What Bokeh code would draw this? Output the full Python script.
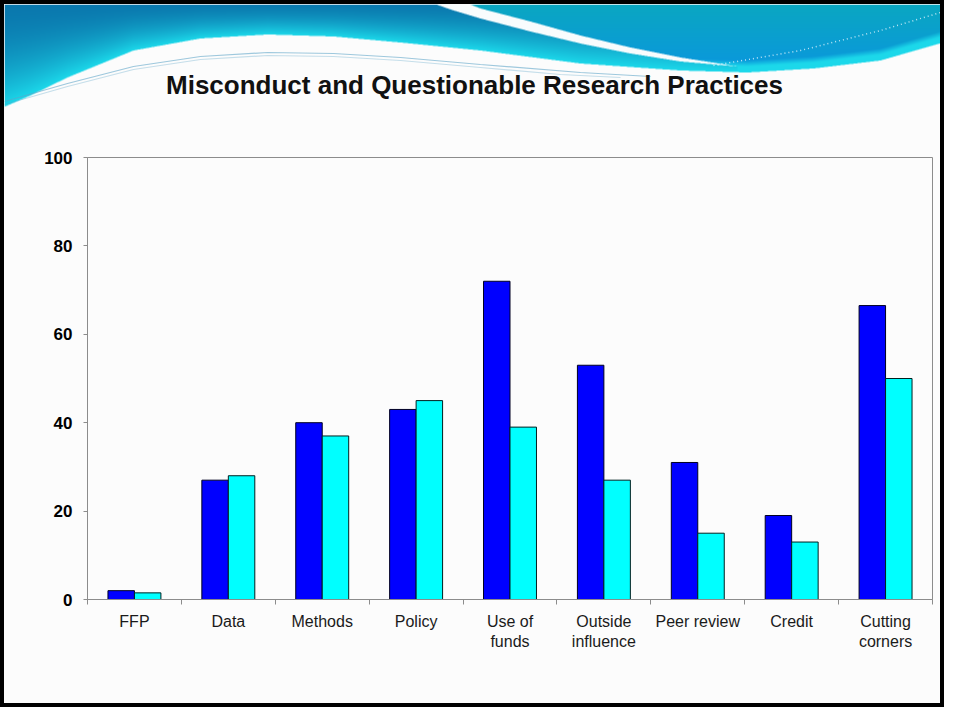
import numpy as np
from bokeh.plotting import figure
from bokeh.models import Range1d, FixedTicker, ColumnDataSource
from bokeh.layouts import column
from bokeh.embed import file_html
from bokeh.resources import INLINE
from bokeh.transform import dodge
from bokeh.core.properties import value

# ---------------- data ----------------
categories = ["FFP", "Data", "Methods", "Policy", "Use of\nfunds",
              "Outside\ninfluence", "Peer review", "Credit", "Cutting\ncorners"]
series_a = [2, 27, 40, 43, 72, 53, 31, 19, 66.5]
series_b = [1.5, 28, 37, 45, 39, 27, 15, 13, 50]
y_ticks = [0, 20, 40, 60, 80, 100]
title_text = "Misconduct and Questionable Research Practices"

BG = "#FCFCFC"
FONT = "Liberation Sans"

# ---------------- header (decorative swoosh) ----------------
HX0, HX1, HY0, HY1 = 4, 940, 4, 142
W, H = HX1 - HX0, HY1 - HY0
S = 2
xs = HX0 + (np.arange(W * S) + 0.5) / S
ys = HY0 + (np.arange(H * S) + 0.5) / S
X, Y = np.meshgrid(xs, ys)

def curve(pts, x):
    px, py = zip(*pts)
    return np.interp(x, px, py)

boundary = [(0, 108), (30, 95), (67, 77), (133, 50), (200, 38), (267, 34), (333, 36),
            (400, 42), (480, 50), (580, 63), (680, 70), (747, 72), (813, 68),
            (880, 60), (960, 37)]
rib_up = [(425, 0), (460, 0), (480, 8), (530, 21), (580, 35), (630, 47), (680, 57),
          (737, 66), (960, 66)]
rib_lo = [(425, 0), (450, 9), (480, 18), (530, 31), (580, 43), (630, 53), (680, 61),
          (737, 66), (960, 66)]

B = curve(boundary, X)
U = curve(rib_up, X)
L = curve(rib_lo, X)

def hexrgb(h):
    h = h.lstrip("#")
    return np.array([int(h[i:i + 2], 16) for i in (0, 2, 4)], dtype=float)

bg = hexrgb(BG)
dark = hexrgb("#0A78AE")
cyan = hexrgb("#1CD8EA")
teal = hexrgb("#0AA8C0")
blue = hexrgb("#0B98DC")
white = hexrgb("#F8FCFD")

img = np.zeros(X.shape + (3,))
img[:] = bg
above = Y < B
in_rib = (X >= 425) & (X <= 737) & (Y >= U) & (Y <= L)
right = (X > 460) & (Y < U) & above
right |= (X > 737) & above
left = above & ~in_rib & ~right

t = np.clip(Y / np.maximum(B, 1), 0, 1) ** 1.8
cl = dark[None, None, :] * (1 - t[..., None]) + cyan[None, None, :] * t[..., None]
img[left] = cl[left]
t2 = np.clip(Y / 65.0, 0, 1)[..., None]
cr = teal * (1 - t2) + blue * t2
t3 = np.clip((Y - (B - 12)) / 6.0, 0, 1)[..., None]
cr = cr * (1 - t3) + cyan * t3
img[right] = cr[right]
img[in_rib] = white

img = img.reshape(H, S, W, S, 3).mean(axis=(1, 3))
rgba = np.empty((H, W), dtype=np.uint32)
view = rgba.view(dtype=np.uint8).reshape((H, W, 4))
view[..., :3] = np.clip(img, 0, 255).astype(np.uint8)
view[..., 3] = 255
rgba = np.flipud(rgba)

hdr = figure(width=W, height=H, x_range=Range1d(HX0, HX1), y_range=Range1d(-HY1, -HY0),
             output_backend="svg", toolbar_location=None, min_border=0, frame_align=False,
             background_fill_color=BG, border_fill_color=BG, outline_line_color=None)
hdr.axis.visible = False
hdr.grid.visible = False
hdr.image_rgba(image=[rgba], x=HX0, y=-HY1, dw=W, dh=H)

swirl1 = [(4, 101), (67, 83), (133, 66), (200, 56), (267, 52), (333, 53), (400, 57),
          (480, 64), (580, 72), (650, 76)]
swirl2 = [(4, 104), (67, 86), (133, 69), (200, 59), (267, 55), (333, 56), (400, 60),
          (480, 67), (560, 74), (620, 77)]
for pts, a in ((swirl1, 0.6), (swirl2, 0.35)):
    hdr.line([q[0] for q in pts], [-q[1] for q in pts], line_color="#5FA5C8",
             line_width=1.2, line_alpha=a)
dots = [(713, 65), (800, 50), (880, 30), (940, 12)]
hdr.line([q[0] for q in dots], [-q[1] for q in dots], line_color="#E8F8FF",
         line_width=1.5, line_alpha=0.8, line_dash="1 3")

hdr.text(x=[474], y=[-84], text=[title_text], text_font=value(FONT),
         text_font_style="bold", text_font_size="26px", text_color="#111111",
         text_align="center", text_baseline="middle")

# ---------------- chart ----------------
n = len(categories)
centers = [i + 0.5 for i in range(n)]
src = ColumnDataSource(dict(x=centers, a=series_a, b=series_b))

p = figure(width=W, height=561, x_range=Range1d(0, n), y_range=Range1d(0, 100),
           output_backend="svg", toolbar_location=None, frame_align=False,
           min_border_left=83, min_border_right=8, min_border_top=15, min_border_bottom=104,
           background_fill_color=BG, border_fill_color=BG, outline_line_color="#8C8C8C")

bw = 0.282
p.vbar(x=dodge("x", -bw / 2, range=p.x_range), top="a", bottom=0, width=bw, source=src,
       fill_color="#0000FF", line_color="#000020", line_width=1)
p.vbar(x=dodge("x", bw / 2, range=p.x_range), top="b", bottom=0, width=bw, source=src,
       fill_color="#00FFFF", line_color="#002020", line_width=1)

p.xgrid.visible = False
p.ygrid.visible = False

xa = p.xaxis[0]
xa.ticker = FixedTicker(ticks=centers, minor_ticks=list(range(n + 1)))
xa.major_label_overrides = {c: lab for c, lab in zip(centers, categories)}
xa.major_tick_line_color = None
xa.major_tick_out = 0
xa.major_tick_in = 0
xa.minor_tick_out = 5
xa.minor_tick_in = 0
xa.minor_tick_line_color = "#8C8C8C"
xa.axis_line_color = "#8C8C8C"
xa.major_label_text_font = FONT
xa.major_label_text_font_size = "16px"
xa.major_label_text_color = "#1A1A1A"
xa.major_label_standoff = 8

ya = p.yaxis[0]
ya.ticker = FixedTicker(ticks=y_ticks, minor_ticks=[])
ya.major_tick_out = 4
ya.major_tick_in = 0
ya.major_tick_line_color = "#8C8C8C"
ya.axis_line_color = "#8C8C8C"
ya.major_label_text_font = FONT
ya.major_label_text_font_style = "bold"
ya.major_label_text_font_size = "17px"
ya.major_label_text_color = "#000000"
ya.major_label_standoff = 11

layout = column(hdr, p, styles={"border": "4px solid #000000", "background-color": BG})

open("out.html", "w").write(file_html(layout, INLINE))
